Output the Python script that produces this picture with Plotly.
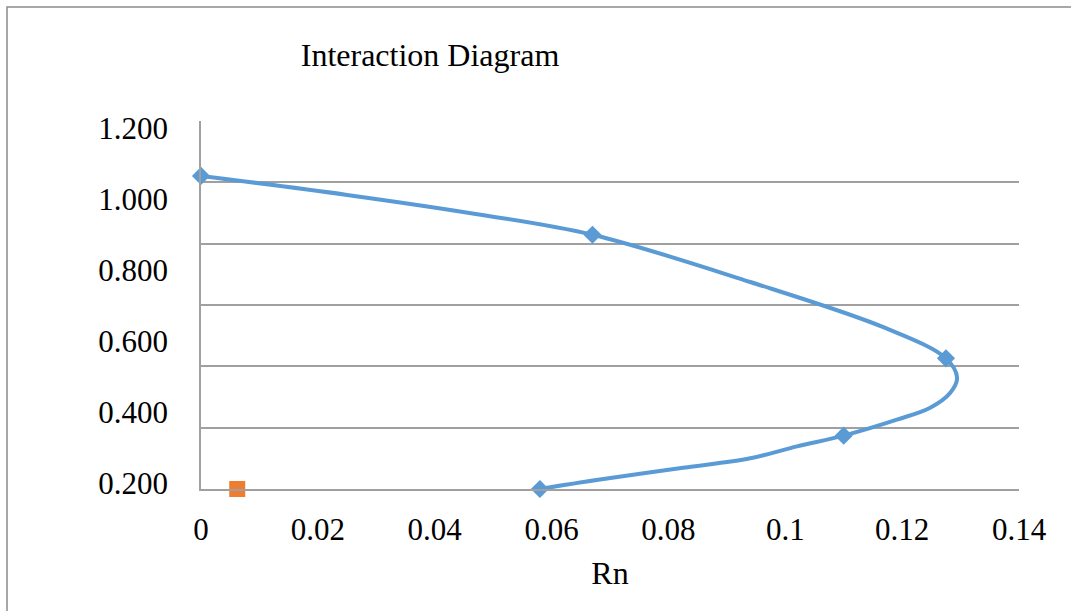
import plotly.graph_objects as go

# Interaction curve as drawn (Rn, Kn)
rn_line = [0.0, 0.025, 0.047, 0.067, 0.094, 0.117, 0.1275, 0.1294, 0.1282, 0.1248, 0.1191,
           0.110, 0.102, 0.094, 0.0825, 0.068, 0.058]
kn_line = [1.021, 0.959, 0.897, 0.829, 0.675, 0.526, 0.426, 0.363, 0.313, 0.265, 0.226,
           0.174, 0.139, 0.100, 0.069, 0.030, 0.0]

# Marked points of the interaction curve
rn_marks = [0.0, 0.067, 0.1275, 0.110, 0.058]
kn_marks = [1.021, 0.829, 0.426, 0.174, 0.0]

# Demand point
rn_point = [0.0062]
kn_point = [0.0]

# Tick labels
x_ticks = [0, 0.02, 0.04, 0.06, 0.08, 0.1, 0.12, 0.14]
x_ticktext = ["0", "0.02", "0.04", "0.06", "0.08", "0.1", "0.12", "0.14"]
y_label_vals = [0.2, 0.4, 0.6, 0.8, 1.0, 1.2]
y_label_text = ["0.200", "0.400", "0.600", "0.800", "1.000", "1.200"]

FONT = "Liberation Serif"
GRID = "#A0A0A0"
BLUE = "#5B9BD5"

fig = go.Figure()

fig.add_trace(go.Scatter(
    x=rn_line, y=kn_line, mode="lines",
    line=dict(color=BLUE, width=4, shape="spline", smoothing=1),
    cliponaxis=False, showlegend=False,
))
fig.add_trace(go.Scatter(
    x=rn_marks, y=kn_marks, mode="markers",
    marker=dict(symbol="diamond", size=14, color=BLUE),
    cliponaxis=False, showlegend=False,
))
fig.add_trace(go.Scatter(
    x=rn_point, y=kn_point, mode="markers",
    marker=dict(symbol="square", size=16, color="#ED7D31"),
    cliponaxis=False, showlegend=False,
))
# invisible carrier trace for the label axis
fig.add_trace(go.Scatter(
    x=[None], y=[None], yaxis="y2", mode="markers",
    showlegend=False, hoverinfo="skip",
))

fig.update_layout(
    width=1071, height=611,
    margin=dict(l=201, r=52, t=121, b=122),
    paper_bgcolor="white", plot_bgcolor="white",
    font=dict(family=FONT, color="black", size=31),
    title=dict(text="Interaction Diagram", x=430 / 1071, xref="container", xanchor="center",
               y=1 - 55 / 611, yref="container", yanchor="middle",
               font=dict(family=FONT, size=32, color="black")),
    xaxis=dict(
        range=[0, 0.14], tickvals=x_ticks, ticktext=x_ticktext,
        showgrid=False, zeroline=False, showline=True, linecolor=GRID, linewidth=1.5,
        ticks="", ticklabelstandoff=12,
        tickfont=dict(family=FONT, size=31, color="black"),
        title=dict(text="Rn", font=dict(family=FONT, size=32, color="black"), standoff=16),
    ),
    yaxis=dict(
        range=[0, 1.2], dtick=0.2, showticklabels=False,
        showgrid=True, gridcolor=GRID, gridwidth=1.5,
        zeroline=False, showline=True, linecolor=GRID, linewidth=1.5,
    ),
    yaxis2=dict(
        overlaying="y", side="left", range=[0.1845, 1.219],
        tickvals=y_label_vals, ticktext=y_label_text,
        showgrid=False, zeroline=False, showline=False, ticks="",
        ticklabelstandoff=32,
        tickfont=dict(family=FONT, size=31, color="black"),
    ),
    shapes=[dict(type="rect", xref="paper", yref="paper",
                 x0=(7 - 201) / 818, x1=1.2, y0=-0.5, y1=(489.3 - 7) / 368.3,
                 line=dict(color="#8C8C8C", width=1.5), layer="above")],
)

fig.write_html(
    "out.html",
    config={"displayModeBar": False},
    post_script="document.body.style.margin='0';document.body.style.overflow='hidden';",
)
